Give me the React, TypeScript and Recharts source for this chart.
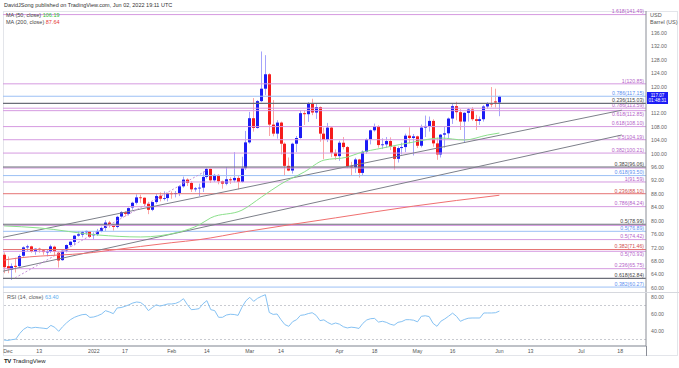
import { Bar, ComposedChart, Line, ReferenceLine, XAxis, YAxis } from "recharts"

// daily candles, Nov 30 2021 (bar -1) .. Jun 02 2022 (bar 126)
const OPEN = [
  69.9, 66.5, 65.5, 66.6, 66.5, 69.6, 72.1, 72.4, 70.8, 71.7, 71.2, 70.6, 70.9, 72.3, 70.5, 68.3,
  71.2, 72.8, 73.7, 75.6, 75.9, 76.6, 76.9, 75.7, 76.0, 77.0, 77.9, 79.5, 78.8, 78.2, 81.3, 82.6,
  82.1, 84.0, 85.4, 87.0, 86.9, 85.1, 83.3, 85.6, 87.5, 86.6, 86.8, 88.2, 88.0, 88.3, 90.3, 92.3,
  91.3, 89.4, 89.7, 89.9, 93.1, 95.5, 92.1, 93.7, 91.8, 91.1, 92.4, 92.1, 92.8, 91.6, 95.7, 103.4,
  110.6, 107.7, 115.7, 119.4, 123.7, 108.7, 106.0, 109.3, 103.0, 96.4, 95.0, 103.0, 104.7, 112.1, 111.8, 114.9,
  112.3, 113.9, 106.0, 104.2, 107.8, 100.3, 99.3, 103.3, 102.0, 96.2, 96.0, 98.3, 94.3, 100.6, 104.3, 107.0,
  108.2, 102.6, 102.8, 103.8, 102.1, 98.5, 101.7, 102.0, 105.4, 104.7, 105.2, 102.4, 107.8, 108.3, 109.8, 103.1,
  99.8, 105.7, 106.1, 110.5, 114.2, 112.4, 109.6, 112.2, 113.2, 110.3, 109.8, 110.3, 114.1, 115.1, 115.6, 115.3,
]
const HIGH = [
  70.6, 69.4, 67.3, 69.0, 70.0, 72.4, 72.9, 72.6, 71.8, 72.0, 71.6, 71.5, 72.9, 72.6, 70.8, 71.2,
  73.0, 73.9, 75.8, 76.9, 77.0, 77.1, 77.0, 76.6, 77.6, 78.3, 80.2, 80.0, 79.0, 81.5, 82.9, 82.9,
  84.0, 85.7, 87.9, 87.8, 87.0, 85.7, 85.7, 88.0, 88.5, 88.8, 88.4, 88.8, 88.9, 90.4, 93.2, 92.7,
  91.8, 90.1, 91.1, 94.7, 95.8, 95.6, 94.0, 93.9, 92.0, 96.0, 93.0, 100.5, 93.5, 99.1, 106.8, 112.5,
  116.6, 116.0, 130.5, 129.4, 124.0, 116.0, 110.0, 109.6, 103.4, 98.9, 103.3, 105.3, 113.0, 113.0, 115.4, 116.4,
  114.9, 114.1, 107.8, 109.2, 108.0, 101.3, 103.9, 105.0, 102.3, 97.6, 98.8, 98.5, 101.0, 104.6, 107.2, 109.0,
  108.5, 104.6, 105.0, 104.9, 102.2, 102.2, 103.3, 106.0, 107.9, 105.9, 105.4, 108.7, 111.4, 111.1, 110.3, 104.8,
  105.9, 108.1, 110.8, 114.8, 115.5, 113.3, 112.4, 113.6, 113.9, 111.6, 111.1, 114.5, 115.4, 119.9, 119.4, 117.3,
]
const LOW = [
  64.4, 64.4, 62.4, 64.6, 66.0, 69.3, 71.0, 70.5, 69.9, 70.5, 69.9, 69.4, 70.4, 69.8, 66.1, 68.1,
  70.6, 72.2, 72.7, 75.3, 75.1, 75.8, 74.9, 74.3, 75.5, 76.6, 77.0, 78.0, 77.1, 77.8, 81.0, 81.3,
  81.6, 83.3, 84.9, 85.4, 84.4, 82.0, 82.9, 85.1, 85.8, 86.1, 85.8, 86.6, 87.0, 87.4, 89.9, 90.4,
  88.6, 88.7, 87.4, 88.6, 92.6, 91.3, 91.6, 90.9, 89.6, 90.6, 91.0, 91.5, 89.4, 91.4, 95.2, 103.0,
  106.6, 107.5, 115.4, 117.5, 105.3, 105.2, 104.5, 99.8, 93.5, 94.8, 94.1, 100.5, 104.5, 108.6, 109.5, 111.5,
  110.4, 103.6, 98.4, 103.5, 99.0, 98.2, 97.9, 101.3, 95.7, 93.5, 94.3, 92.9, 93.6, 100.0, 102.8, 106.6,
  101.8, 101.4, 101.8, 101.1, 95.3, 97.4, 99.8, 100.5, 103.1, 99.5, 101.7, 101.9, 105.0, 106.6, 102.1, 98.2,
  98.9, 101.8, 104.7, 108.9, 110.0, 107.1, 103.3, 109.6, 109.8, 107.1, 108.6, 109.6, 113.4, 113.9, 113.8, 111.2,
]
const CLOSE = [
  66.2, 65.6, 66.5, 66.3, 69.5, 72.1, 72.4, 70.9, 71.7, 71.3, 70.7, 70.9, 72.4, 70.9, 68.2, 71.1,
  72.8, 73.8, 75.6, 76.0, 76.6, 77.0, 75.2, 76.1, 77.0, 77.9, 79.5, 78.9, 78.2, 81.2, 82.6, 82.1,
  83.8, 85.4, 87.0, 86.9, 85.1, 83.3, 85.6, 87.4, 86.6, 86.8, 88.2, 88.0, 88.3, 90.3, 92.3, 91.3,
  89.4, 89.7, 89.9, 93.1, 95.5, 92.1, 93.7, 91.8, 91.1, 92.4, 92.1, 92.8, 91.6, 95.7, 103.4, 110.6,
  107.7, 115.7, 119.4, 123.7, 108.7, 106.0, 109.3, 103.0, 96.4, 95.0, 103.0, 104.7, 112.1, 111.8, 114.9, 112.3,
  113.9, 106.0, 104.2, 107.8, 100.3, 99.3, 103.3, 102.0, 96.2, 96.0, 98.3, 94.3, 100.6, 104.3, 107.0, 108.2,
  102.6, 102.8, 103.8, 102.1, 98.5, 101.7, 102.0, 105.4, 104.7, 105.2, 102.4, 107.8, 108.3, 109.8, 103.1, 99.8,
  105.7, 106.1, 110.5, 114.2, 112.4, 109.6, 112.2, 113.2, 110.3, 109.8, 110.3, 114.1, 115.1, 114.7, 115.3, 117.1,
]
const FIRST_BAR = -1

// RSI(14), one value per bar
const RSI = [
  29.3, 28.9, 29.8, 30.4, 37, 42, 44.7, 43.5, 44.3, 43.8, 43.3, 42.7, 46.6, 44.3, 39.6, 45,
  49.5, 53.3, 56, 57.8, 59.2, 59.6, 56, 56.5, 58, 60, 63.9, 62.4, 60.4, 67.1, 67.6, 69,
  70.8, 72.9, 74.1, 73.5, 70, 64, 67.5, 70.8, 69.3, 70.5, 71.8, 71.8, 72.5, 74.5, 78, 71,
  65.1, 65.5, 66.3, 72, 75.7, 65.1, 64, 56.1, 56.1, 58.8, 59.7, 59.4, 58.4, 68, 75.5, 79.6,
  74.9, 78.5, 80.8, 82.7, 61.8, 59.5, 60, 53.3, 47.5, 45.5, 51, 53.3, 58.4, 59, 60.5, 61.5,
  58.5, 52.2, 53.1, 50, 47.8, 49.4, 48, 45, 43.6, 44.5, 44, 43, 49, 53, 54.5, 54.8,
  50.5, 51.4, 50.2, 48, 46.8, 50.2, 51.1, 53.3, 53.3, 52.7, 50.8, 57.3, 57.9, 57, 49, 45.5,
  51.5, 54.2, 57.5, 61, 57.3, 51.4, 53.5, 55, 55.3, 55.3, 55.3, 61.2, 61.2, 61.2, 61.5, 63.4,
]

const MA50_BAR = [-1, 8, 23, 34, 44, 49, 52, 60, 65, 70, 76, 81, 87, 90, 96, 104, 111, 117, 123, 126]
const MA50 = [78.5, 77.9, 75.8, 75.2, 76.7, 78.8, 80.9, 83.2, 87.1, 91.0, 94.6, 98.1, 99.0, 100.2, 101.7, 103.5, 104.7, 104.1, 105.6, 106.19]
const MA200_BAR = [-1, 0, 22, 26, 42, 49, 61, 84, 104, 126]
const MA200 = [68.3, 68.5, 70.6, 71.2, 73.5, 74.4, 76.8, 80.9, 84.4, 87.64]

const PURPLE_LEVELS = [141.49, 120.85, 113.59, 112.85, 108.1, 104.19, 100.21, 91.59, 84.24, 74.42, 70.93, 65.75]
const PURPLE_LABELS = ["1.618(141.49)", "1(120.85)", "0.786(113.59)", "0.618(112.85)", "0.618(108.10)", "0.5(104.19)", "0.382(100.21)", "1(91.59)", "0.786(84.24)", "0.5(74.42)", "0.5(70.93)", "0.236(65.75)"]
// purple levels hidden under the gray ones, their labels lie under the gray labels
const PURPLE_UNDER = [95.76, 78.64]
const BLUE_LEVELS = [117.15, 93.5, 76.89, 60.27]
const BLUE_LABELS = ["0.786(117.15)", "0.618(93.50)", "0.5(76.89)", "0.382(60.27)"]
const GRAY_LEVELS = [115.03, 96.06, 78.99, 62.84]
const GRAY_LABELS = ["0.236(115.03)", "0.382(96.06)", "0.5(78.99)", "0.618(62.84)"]
const RED_LEVELS = [88.1, 71.46]
const RED_LABELS = ["0.236(88.10)", "0.382(71.46)"]

// trendlines: [bar, price] end points
const UPPER_TREND = [[-1.28, 75.1], [157.4, 113.0]]
const LOWER_TREND = [[-1.28, 65.0], [157.4, 105.6]]
const CHANNEL_DOTTED = [[1.8, 63.0], [51.2, 95.2]]

// 116 sits under the last-price box
const PRICE_TICKS = [60, 64, 68, 72, 76, 80, 84, 88, 92, 96, 100, 104, 108, 112, 120, 124, 128, 132, 136]
const TIME_TICKS = [0, 8, 22, 30, 42, 51, 62, 70, 85, 94, 105, 114, 126, 134, 147, 157]
const TIME_LABELS = ["Dec", "13", "2022", "17", "Feb", "14", "Mar", "14", "Apr", "18", "May", "16", "Jun", "13", "Jul", "18"]

const UP = "#1c1cf5"
const DOWN = "#f51c1c"
const PURPLE = "#d59ae0"
const PURPLE_TXT = "#b45fc8"
const BLUE = "#9cc0f5"
const BLUE_TXT = "#5b8ff0"
const GRAY = "#6b6e78"
const RED = "#e57373"
const FONT = "'Liberation Sans', Arial, sans-serif"
const X_DOMAIN: [number, number] = [-1.28, 163.6]
// levels packed tightly under another one get their label below the line
const LABEL_BELOW = [112.85, 70.93]

const candles = OPEN.map((o, k) => ({
  i: FIRST_BAR + k,
  open: o,
  high: HIGH[k],
  low: LOW[k],
  close: CLOSE[k],
}))
const rsiData = RSI.map((v, k) => ({ i: FIRST_BAR + k, v }))
const ma50Data = MA50_BAR.map((i, k) => ({ i, v: MA50[k] }))
const ma200Data = MA200_BAR.map((i, k) => ({ i, v: MA200[k] }))

function Candle(props: any) {
  const { x, y, width, height, payload } = props
  if (!payload || !height) return null
  const { open, high, low, close } = payload
  const k = height / (high - low)
  const color = close >= open ? UP : DOWN
  const top = y + (high - Math.max(open, close)) * k
  const bot = y + (high - Math.min(open, close)) * k
  const cx = Math.round(x + width / 2) + 0.5
  return (
    <g>
      <line x1={cx} x2={cx} y1={y} y2={y + height} stroke={color} strokeOpacity={0.4} />
      <rect x={cx - 1.5} y={top} width={3} height={Math.max(bot - top, 0.8)} fill={color} />
    </g>
  )
}

function LevelLabel({ viewBox, text, color, below }: any) {
  if (!viewBox || !text) return null
  return (
    <text
      x={viewBox.x + viewBox.width - 2}
      y={below ? viewBox.y + 5 : viewBox.y - 1.2}
      textAnchor="end"
      fontSize={5.2}
      fontFamily={FONT}
      fill={color}
    >
      {text}
    </text>
  )
}

function levels(prices: number[], labels: string[] | null, stroke: string, txt: string, width = 1) {
  return prices.map((p, k) => (
    <ReferenceLine
      key={`${stroke}-${p}`}
      y={p}
      stroke={stroke}
      strokeWidth={width}
      ifOverflow="extendDomain"
      label={labels ? <LevelLabel text={labels[k]} color={txt} below={LABEL_BELOW.includes(p)} /> : undefined}
    />
  ))
}

const small = { fontSize: 5.5, fontFamily: FONT, position: "absolute" as const, whiteSpace: "nowrap" as const }

export default function App() {
  return (
    <div style={{ position: "relative", width: 679, height: 368, background: "#fff", overflow: "hidden" }}>
      <style>{"body{margin:0}"}</style>
      <div style={{ position: "absolute", left: 3, top: 11, width: 675, height: 345, border: "1px solid #e3e5ea", boxSizing: "border-box" }} />

      <div style={{ position: "absolute", left: 0, top: 0 }}>
        <ComposedChart width={679} height={292} data={candles} margin={{ top: 11, right: 0, bottom: 0, left: 3 }}>
          <XAxis type="number" dataKey="i" domain={X_DOMAIN} allowDataOverflow hide />
          <YAxis
            orientation="right"
            width={33}
            domain={[58.8, 142.56]}
            allowDataOverflow
            ticks={PRICE_TICKS}
            tickFormatter={(v: number) => v.toFixed(2)}
            tick={{ fontSize: 5.2, fill: "#666", fontFamily: FONT }}
            tickLine={false}
            tickSize={0}
            tickMargin={5}
            axisLine={{ stroke: "#8a8d96" }}
          />
          {levels(PURPLE_LEVELS, PURPLE_LABELS, PURPLE, PURPLE_TXT)}
          {levels(PURPLE_UNDER, null, PURPLE, PURPLE_TXT)}
          {levels(BLUE_LEVELS, BLUE_LABELS, BLUE, BLUE_TXT)}
          {levels(RED_LEVELS, RED_LABELS, RED, "#d05050")}
          {levels(GRAY_LEVELS, GRAY_LABELS, GRAY, "#444", 1.2)}
          <ReferenceLine
            segment={UPPER_TREND.map(([x, y]) => ({ x, y }))}
            stroke="#7d808a"
            strokeWidth={1}
            ifOverflow="visible"
          />
          <ReferenceLine
            segment={LOWER_TREND.map(([x, y]) => ({ x, y }))}
            stroke="#7d808a"
            strokeWidth={1}
            ifOverflow="visible"
          />
          <ReferenceLine
            segment={CHANNEL_DOTTED.map(([x, y]) => ({ x, y }))}
            stroke="#c58fd8"
            strokeDasharray="2 2"
            ifOverflow="visible"
          />
          <Line data={ma200Data} dataKey="v" type="monotone" stroke="#f07070" strokeWidth={1} dot={false} isAnimationActive={false} />
          <Line data={ma50Data} dataKey="v" type="monotone" stroke="#8be08b" strokeWidth={1} dot={false} isAnimationActive={false} />
          <Bar dataKey={(d: any) => [d.low, d.high]} barSize={3} shape={<Candle />} isAnimationActive={false} />
        </ComposedChart>
      </div>

      <div style={{ position: "absolute", left: 3, top: 292, width: 676, height: 1, background: "#d6d8de" }} />

      <div style={{ position: "absolute", left: 0, top: 292 }}>
        <ComposedChart width={679} height={64} data={rsiData} margin={{ top: 1, right: 0, bottom: 0, left: 3 }}>
          <XAxis
            type="number"
            dataKey="i"
            domain={X_DOMAIN}
            allowDataOverflow
            ticks={TIME_TICKS}
            tickFormatter={(v: number) => TIME_LABELS[TIME_TICKS.indexOf(v)] ?? ""}
            tick={{ fontSize: 5.2, fill: "#555", fontFamily: FONT }}
            tickLine={false}
            tickSize={0}
            tickMargin={3}
            height={10}
            axisLine={{ stroke: "#a9acb4", strokeWidth: 1.5 }}
          />
          <YAxis
            orientation="right"
            width={33}
            domain={[22.35, 84.7]}
            allowDataOverflow
            ticks={[40, 60, 80]}
            tickFormatter={(v: number) => v.toFixed(2)}
            tick={{ fontSize: 5.2, fill: "#666", fontFamily: FONT }}
            tickLine={false}
            tickSize={0}
            tickMargin={5}
            axisLine={{ stroke: "#8a8d96" }}
          />
          <ReferenceLine y={70} stroke="#c9cbd1" strokeDasharray="2 2" />
          <ReferenceLine y={30} stroke="#c9cbd1" strokeDasharray="2 2" />
          <Line dataKey="v" type="linear" stroke="#86c2f3" strokeWidth={1} dot={false} isAnimationActive={false} />
        </ComposedChart>
      </div>

      <div style={{ ...small, left: 4, top: 2, color: "#333" }}>DavidJSong published on TradingView.com, Jun 02, 2022 19:11 UTC</div>
      <div style={{ ...small, left: 6, top: 12, color: "#444" }}>
        MA (50, close) <span style={{ color: "#2fbf2f" }}>106.19</span>
      </div>
      <div style={{ ...small, left: 6, top: 19, color: "#444" }}>
        MA (200, close) <span style={{ color: "#e53935" }}>87.64</span>
      </div>
      <div style={{ ...small, left: 650, top: 12, color: "#555" }}>USD</div>
      <div style={{ ...small, left: 650, top: 19, color: "#555" }}>Barrel (US)</div>
      <div style={{ ...small, left: 7, top: 294, color: "#555" }}>
        RSI (14, close) <span style={{ color: "#5aaef0" }}>63.40</span>
      </div>

      <div
        style={{
          position: "absolute",
          left: 647,
          top: 92,
          width: 21,
          height: 12,
          background: UP,
          color: "#fff",
          fontSize: 4.6,
          fontFamily: FONT,
          lineHeight: "5.5px",
          textAlign: "center",
          paddingTop: 0.5,
          boxSizing: "border-box",
        }}
      >
        117.07
        <br />
        01:48:31
      </div>

      <div style={{ position: "absolute", left: 646, top: 346, width: 1, height: 10, background: "#8a8d96" }} />

      <div style={{ ...small, left: 4, top: 358, color: "#222", fontSize: 6 }}>
        <b style={{ letterSpacing: -0.3 }}>TV</b> TradingView
      </div>
    </div>
  )
}
